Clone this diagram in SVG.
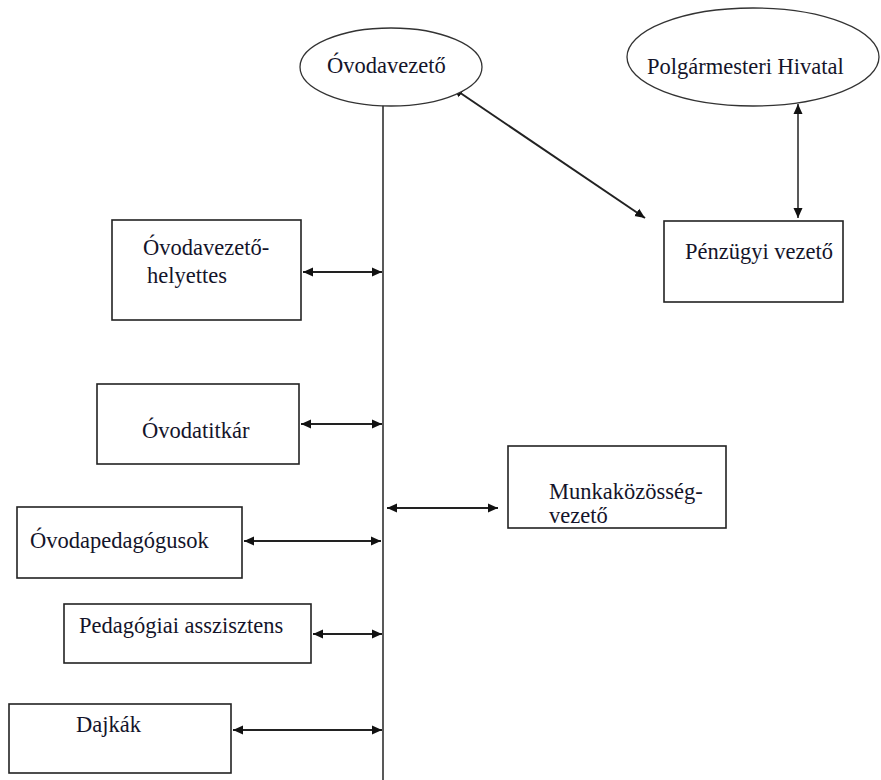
<svg xmlns="http://www.w3.org/2000/svg" width="881" height="780" viewBox="0 0 881 780">
<defs>
<style>
.box{fill:#fff;stroke:#222;stroke-width:1.6}
.ell{fill:#fff;stroke:#333;stroke-width:1.3}
.t{font-family:"Liberation Serif","Times New Roman","DejaVu Serif",serif;font-size:22.5px;fill:#14142a}
.c{stroke:#222;stroke-width:2;fill:none}
</style>
<marker id="ah" viewBox="0 0 10 10" refX="10" refY="5" markerWidth="10" markerHeight="10" markerUnits="userSpaceOnUse" orient="auto-start-reverse">
<path d="M0,0.5 L10,5 L0,9.5 Z" fill="#111"/>
</marker>
</defs>
<rect width="881" height="780" fill="#fff"/>
<g id="connectors">
<line class="c" x1="383" y1="97" x2="383" y2="780" style="stroke-width:1.5"/>
<line class="c" x1="453" y1="88" x2="645" y2="218" marker-start="url(#ah)" marker-end="url(#ah)"/>
<line class="c" x1="798" y1="104" x2="798" y2="218" style="stroke-width:1.5" marker-start="url(#ah)" marker-end="url(#ah)"/>
<line class="c" x1="303" y1="272" x2="382" y2="272" marker-start="url(#ah)" marker-end="url(#ah)"/>
<line class="c" x1="301" y1="424" x2="382" y2="424" marker-start="url(#ah)" marker-end="url(#ah)"/>
<line class="c" x1="387" y1="508" x2="498" y2="508" marker-start="url(#ah)" marker-end="url(#ah)"/>
<line class="c" x1="244" y1="541" x2="381" y2="541" marker-start="url(#ah)" marker-end="url(#ah)"/>
<line class="c" x1="313" y1="634" x2="382" y2="634" marker-start="url(#ah)" marker-end="url(#ah)"/>
<line class="c" x1="233" y1="730" x2="382" y2="730" marker-start="url(#ah)" marker-end="url(#ah)"/>
</g>
<g id="ovodavezeto">
<ellipse class="ell" cx="391" cy="67" rx="91" ry="39"/>
<text class="t" x="327" y="73">Óvodavezető</text>
</g>
<g id="polgarmesteri">
<ellipse class="ell" cx="753" cy="57" rx="126" ry="49"/>
<text class="t" x="647" y="74">Polgármesteri Hivatal</text>
</g>
<g id="penzugyi">
<rect class="box" x="664" y="221" width="179" height="81"/>
<text class="t" x="685" y="259">Pénzügyi vezető</text>
</g>
<g id="helyettes">
<rect class="box" x="112" y="220" width="189" height="100"/>
<text class="t" x="143" y="255">Óvodavezető-</text>
<text class="t" x="147" y="283">helyettes</text>
</g>
<g id="titkar">
<rect class="box" x="97" y="384" width="202" height="80"/>
<text class="t" x="142" y="438">Óvodatitkár</text>
</g>
<g id="munkakozosseg">
<rect class="box" x="508" y="446" width="218" height="82"/>
<text class="t" x="549" y="499">Munkaközösség-</text>
<text class="t" x="549" y="523">vezető</text>
</g>
<g id="pedagogusok">
<rect class="box" x="17" y="507" width="225" height="71"/>
<text class="t" x="30" y="548">Óvodapedagógusok</text>
</g>
<g id="asszisztens">
<rect class="box" x="64" y="604" width="247" height="59"/>
<text class="t" x="79" y="633">Pedagógiai asszisztens</text>
</g>
<g id="dajkak">
<rect class="box" x="9" y="704" width="222" height="69"/>
<text class="t" x="76" y="732">Dajkák</text>
</g>
</svg>
